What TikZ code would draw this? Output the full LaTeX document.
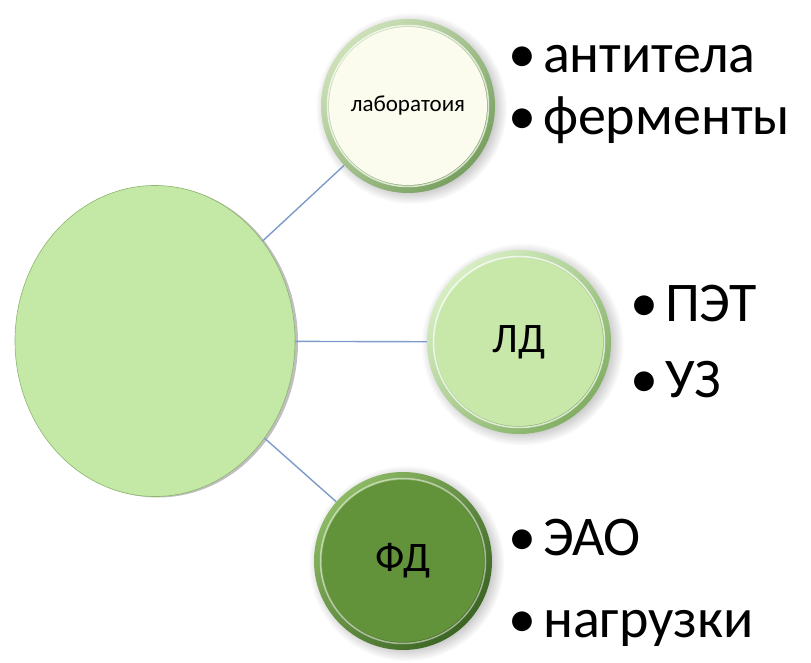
\documentclass[tikz,border=0pt]{standalone}
\usepackage{fontspec}
\setmainfont{Carlito}
\usetikzlibrary{calc,shapes.geometric,shadows}

\definecolor{bigfill}{RGB}{196,233,166}
\definecolor{bigedge}{RGB}{140,180,110}
\definecolor{linkblue}{RGB}{125,155,200}
\definecolor{labrimA}{RGB}{205,225,185}
\definecolor{labrimB}{RGB}{120,160,95}
\definecolor{labin}{RGB}{251,252,238}
\definecolor{ldrimA}{RGB}{215,238,195}
\definecolor{ldrimB}{RGB}{130,175,100}
\definecolor{ldin}{RGB}{200,232,170}
\definecolor{fdrimA}{RGB}{140,185,100}
\definecolor{fdrimB}{RGB}{60,100,35}
\definecolor{fdin}{RGB}{98,146,58}

\begin{document}
\begin{tikzpicture}[x=1pt,y=1pt]
    % bubbles with a rim
    \tikzstyle{bub}=[circle, inner sep=0, font=\fontsize{42}{42}\selectfont,
        circular drop shadow={shadow xshift=3pt, shadow yshift=-2pt, opacity=.45}]
    % bullet lines
    \tikzstyle{item}=[anchor=base west, inner sep=0, font=\fontsize{56}{60}\selectfont]
    \tikzstyle{link}=[line width=1.4pt, draw=linkblue]
    \useasboundingbox (0,0) rectangle (811,662);
    \node[ellipse, inner sep=0, minimum width=280, minimum height=311,
        fill=bigfill, draw=bigedge, line width=.6pt,
        drop shadow={shadow xshift=3pt, shadow yshift=-1pt, opacity=.5}] (main) at (155,321) {};
    \node[bub, minimum size=174, left color=labrimA, right color=labrimB, shading angle=45,
        path picture={\fill[labin] (path picture bounding box.center) circle (79);
        \draw[white, opacity=.7, line width=1.5pt] (path picture bounding box.center) circle (80.5);},
        font=\fontsize{23}{23}\selectfont] (lab) at (408,556) {лаборатоия};
    \node[bub, minimum size=184, left color=ldrimA, right color=ldrimB, shading angle=45,
        path picture={\fill[ldin] (path picture bounding box.center) circle (84);
        \draw[white, opacity=.7, line width=1.5pt] (path picture bounding box.center) circle (85.5);}] (ld) at (519,320) {ЛД};
    \node[bub, minimum size=178, left color=fdrimA, right color=fdrimB, shading angle=45,
        path picture={\fill[fdin] (path picture bounding box.center) circle (81);
        \draw[white, opacity=.5, line width=1.5pt] (path picture bounding box.center) circle (82.5);}] (fd) at (403,101) {ФД};
    \draw[link] (main) -- (lab);
    \draw[link] (main) -- (ld);
    \draw[link] (main) -- (fd);
    % items
    \node[item] (i1) at (508,589) {•\hspace{7pt}антитела};
    \node[item] (i2) at (508,527) {•\hspace{7pt}ферменты};
    \node[item] (i3) at (630,340) {•\hspace{7pt}ПЭТ};
    \node[item] (i4) at (630,264) {•\hspace{7pt}УЗ};
    \node[item] (i5) at (508,107) {•\hspace{7pt}ЭАО};
    \node[item] (i6) at (508,25) {•\hspace{7pt}нагрузки};
\end{tikzpicture}
\end{document}
